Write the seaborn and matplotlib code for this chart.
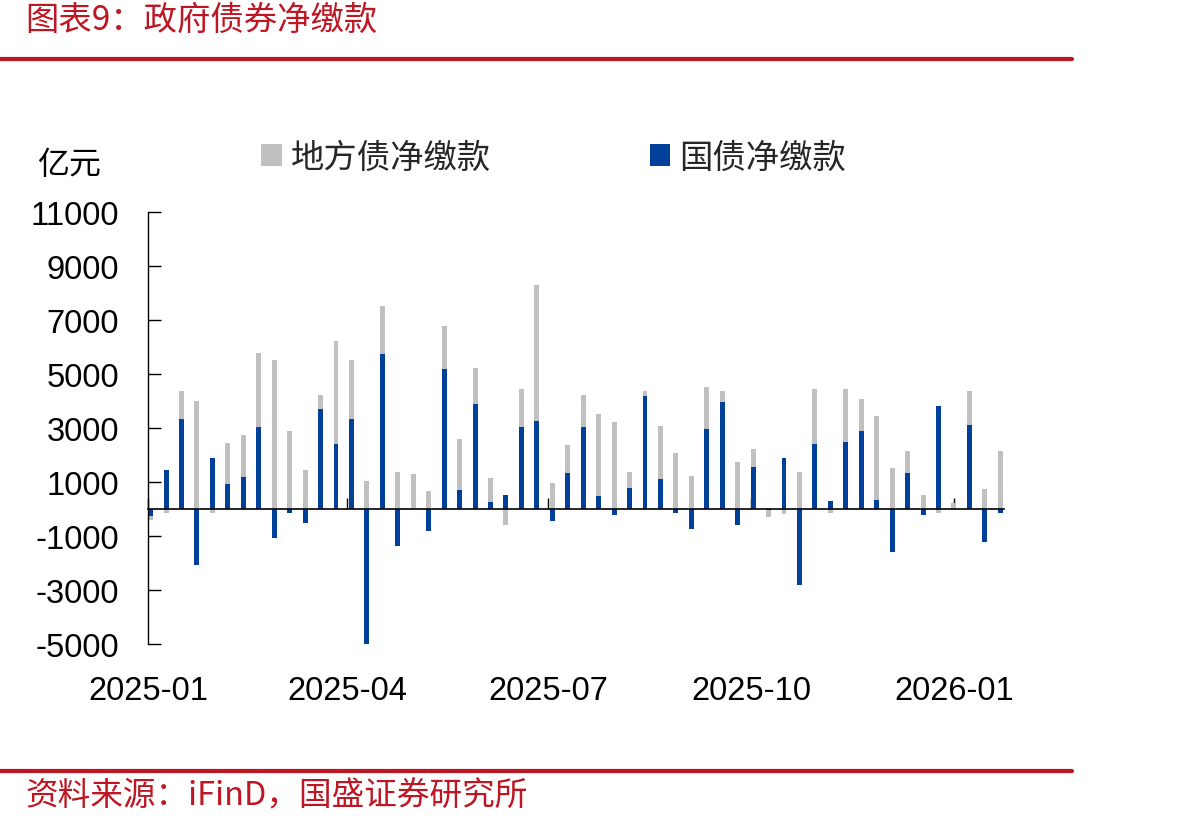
import matplotlib
matplotlib.use("Agg")
import matplotlib.pyplot as plt
import matplotlib.dates as mdates
from matplotlib.lines import Line2D
from matplotlib.patches import Patch
import numpy as np
import pandas as pd
import seaborn as sns

# weekly dates (one bar per week)
weeks = pd.date_range("2025-01-02", periods=56, freq="7D")

# 国债净缴款 (blue), 亿元
treasury = [-250, 1440, 3350, -2070, 1890, 940, 1200, 3050, -1060, -130,
            -500, 3720, 2420, 3350, -5070, 5750, -1370, 0, -810, 5190,
            700, 3880, 270, 520, 3050, 3260, -430, 1350, 3050, 480,
            -220, 790, 4200, 1120, -130, -730, 2980, 3980, -580, 1570,
            -50, 1890, -2830, 2420, 300, 2490, 2890, 330, -1580, 1350,
            -210, 3820, 0, 3120, -1210, -130]

# 地方债净缴款 (grey), 亿元
local = [-170, -130, 1020, 4000, -130, 1500, 1550, 2740, 5520, 2890,
         1440, 500, 3800, 2170, 1040, 1770, 1370, 1300, 670, 1590,
         1890, 1345, 880, -590, 1410, 5040, 975, 1020, 1170, 3040,
         3220, 580, 170, 1950, 2070, 1220, 1540, 390, 1740, 650,
         -240, -200, 1370, 2020, -130, 1950, 1180, 3110, 1520, 800,
         520, -130, 220, 1250, 740, 2150]

yticks = [-5000, -3000, -1000, 1000, 3000, 5000, 7000, 9000, 11000]

RED = "#BE1622"
BLUE = "#00409A"
GREY = "#C0C0C0"

sns.set_theme(style="white")
plt.rcParams["font.family"] = ["Liberation Sans", "Noto Sans CJK SC", "DejaVu Sans"]

df = pd.DataFrame({"week": weeks, "treasury": treasury, "local": local})
df["x"] = mdates.date2num(df["week"])
b = df["treasury"].to_numpy()
g = df["local"].to_numpy()
# stacked: positive parts upward, negative parts downward
df["pos_total"] = np.clip(b, 0, None) + np.clip(g, 0, None)
df["neg_total"] = np.clip(b, None, 0) + np.clip(g, None, 0)

fig = plt.figure(figsize=(11.92, 8.29), dpi=100)
W, H = 1192, 829
x0 = mdates.date2num(pd.Timestamp("2025-01-01"))
x1 = mdates.date2num(pd.Timestamp("2026-01-23 12:00"))
px_per_day = 2.207
left_px = 148.4
right_px = left_px + (x1 - x0) * px_per_day
ax = fig.add_axes([left_px / W, 1 - 645 / H, (right_px - left_px) / W, (645 - 213) / H])

bw = 0.32
sns.barplot(data=df, x="x", y="pos_total", native_scale=True, width=bw, color=GREY,
            saturation=1, linewidth=0, errorbar=None, ax=ax)
sns.barplot(data=df, x="x", y="neg_total", native_scale=True, width=bw, color=GREY,
            saturation=1, linewidth=0, errorbar=None, ax=ax)
sns.barplot(data=df, x="x", y="treasury", native_scale=True, width=bw, color=BLUE,
            saturation=1, linewidth=0, errorbar=None, ax=ax)

ax.set_xlim(x0, x1)
ax.set_ylim(-5000, 11000)
ax.set_yticks(yticks)
ax.set_yticklabels([str(v) for v in yticks])
ax.set_xlabel("")
ax.set_ylabel("")

for s in ["top", "right"]:
    ax.spines[s].set_visible(False)
ax.spines["left"].set_color("black")
ax.spines["left"].set_linewidth(1.0)
ax.spines["bottom"].set_position(("data", 0))
ax.spines["bottom"].set_color("black")
ax.spines["bottom"].set_linewidth(1.2)

loc = mdates.MonthLocator(bymonth=[1, 4, 7, 10])
ax.xaxis.set_major_locator(loc)
ax.xaxis.set_major_formatter(mdates.DateFormatter("%Y-%m"))
ax.tick_params(axis="x", direction="in", length=8, width=1.0, color="black", labelbottom=False,
               bottom=True)
ax.tick_params(axis="y", direction="in", length=9, width=1.0, color="black", left=True,
               labelsize=23.5, pad=21, labelcolor="black")

sec = ax.secondary_xaxis("bottom")
sec.xaxis.set_major_locator(mdates.MonthLocator(bymonth=[1, 4, 7, 10]))
sec.xaxis.set_major_formatter(mdates.DateFormatter("%Y-%m"))
sec.spines["bottom"].set_visible(False)
sec.tick_params(axis="x", length=0, labelsize=23.5, pad=22, labelcolor="black")

handles = [Patch(facecolor=GREY, edgecolor="none", label="地方债净缴款"),
           Patch(facecolor=BLUE, edgecolor="none", label="国债净缴款")]
fig.legend(handles=handles, loc="center left", bbox_to_anchor=(261 / W, 1 - 158 / H),
           ncol=2, frameon=False, handlelength=0.62, handleheight=0.62,
           handletextpad=0.28, columnspacing=4.75, borderpad=0, borderaxespad=0,
           prop={"family": ["Noto Sans CJK SC"], "size": 24})

fig.text(37 / W, 1 - 165 / H, "亿元", fontsize=23, ha="left", va="center",
         family=["Noto Sans CJK SC"], color="black")

# header / footer
fig.text(25 / W, 1 - 20 / H, "图表9：政府债券净缴款", fontsize=24, ha="left", va="center",
         color=RED, style="italic", family=["Noto Sans CJK SC", "DejaVu Sans"])
fig.add_artist(Line2D([0, 1072 / W], [1 - 60 / H] * 2, color=RED, lw=3,
                      transform=fig.transFigure))
fig.add_artist(Line2D([0, 1072 / W], [1 - 772 / H] * 2, color=RED, lw=3,
                      transform=fig.transFigure))
fig.text(25 / W, 1 - 797 / H, "资料来源：iFinD，国盛证券研究所", fontsize=23.5, ha="left",
         va="center", color=RED, style="italic", family=["Noto Sans CJK SC", "DejaVu Sans"])

fig.savefig("out.png", dpi=100)
